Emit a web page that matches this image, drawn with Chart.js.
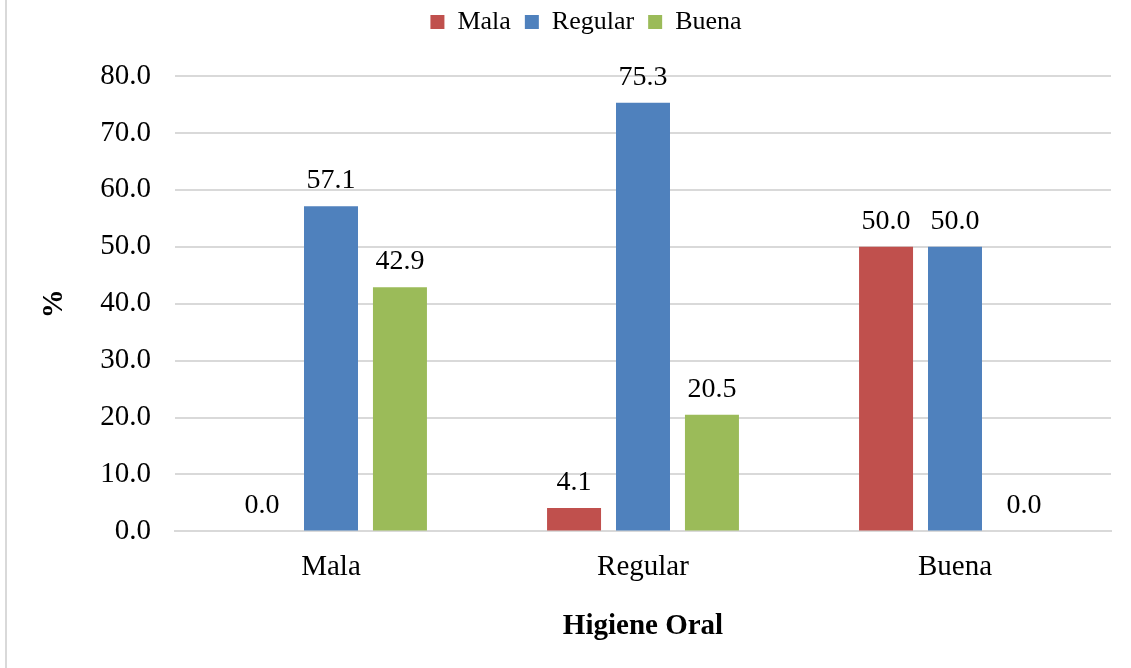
<!DOCTYPE html>
<html>
<head>
<meta charset="utf-8">
<script src="https://cdn.jsdelivr.net/npm/chart.js@4/dist/chart.umd.min.js"></script>
<style>
html,body{margin:0;padding:0;background:#fff;}
#wrap{width:1131px;height:668px;position:relative;}
</style>
</head>
<body>
<div id="wrap"><canvas id="c" width="1131" height="668"></canvas></div>
<script>
const categories = ["Mala", "Regular", "Buena"];
const seriesNames = ["Mala", "Regular", "Buena"];
const malaValues = [0.0, 4.1, 50.0];
const regularValues = [57.1, 75.3, 50.0];
const buenaValues = [42.9, 20.5, 0.0];
const seriesColors = ["#C0504D", "#4F81BD", "#9BBB59"];
const yTicks = [0, 10, 20, 30, 40, 50, 60, 70, 80];

const FONT = "'Liberation Serif', 'Times New Roman', serif";
const FS_LEGEND = 26;
const FS_TICK = 29;
const FS_LABEL = 28;
const FS_TITLE = 29;

const borderPlugin = {
  id: 'leftBorder',
  beforeDraw(chart) {
    const ctx = chart.ctx;
    ctx.save();
    ctx.fillStyle = '#d9d9d9';
    ctx.fillRect(5, 0, 2, chart.height);
    ctx.restore();
  }
};

const legendSpacer = {
  id: 'legendSpacer',
  beforeLayout(chart) {
    const lg = chart.legend;
    if (lg && !lg._spaced) {
      const f = lg.fit.bind(lg);
      lg.fit = function () { f(); this.height += 31; };
      lg._spaced = true;
    }
  },
  afterLayout(chart) {
    const lg = chart.legend;
    if (lg) { lg.left += 24; }
  }
};

const labelPlugin = {
  id: 'valueLabels',
  afterDatasetsDraw(chart) {
    const ctx = chart.ctx;
    ctx.save();
    ctx.font = FS_LABEL + "px " + FONT;
    ctx.fillStyle = '#000';
    ctx.textAlign = 'center';
    ctx.textBaseline = 'alphabetic';
    chart.data.datasets.forEach((ds, i) => {
      const meta = chart.getDatasetMeta(i);
      meta.data.forEach((el, j) => {
        ctx.fillText(Number(ds.data[j]).toFixed(1), el.x, el.y - 18);
      });
    });
    ctx.restore();
  }
};

const seriesData = [malaValues, regularValues, buenaValues];

new Chart(document.getElementById('c'), {
  type: 'bar',
  data: {
    labels: categories,
    datasets: seriesNames.map((n, i) => ({
      label: n,
      data: seriesData[i],
      backgroundColor: seriesColors[i],
      borderWidth: 0,
      categoryPercentage: 0.663,
      barPercentage: 0.783
    }))
  },
  options: {
    responsive: false,
    animation: false,
    devicePixelRatio: 1,
    layout: { padding: { left: 37, right: 20, top: -5, bottom: 8 } },
    plugins: {
      legend: {
        position: 'top',
        labels: {
          font: { family: FONT, size: FS_LEGEND },
          color: '#000',
          boxWidth: 14,
          boxHeight: 14,
          padding: 14
        }
      },
      tooltip: { enabled: false }
    },
    scales: {
      x: {
        grid: { display: false, drawTicks: false },
        border: { display: true, color: '#d9d9d9', width: 2 },
        ticks: { font: { family: FONT, size: FS_TICK }, color: '#000', padding: 19 },
        title: {
          display: true, text: 'Higiene Oral',
          font: { family: FONT, size: FS_TITLE, weight: 'bold' }, color: '#000',
          padding: { top: 5, bottom: 16 }
        }
      },
      y: {
        min: 0, max: 80,
        afterBuildTicks(scale) { scale.ticks = yTicks.map(v => ({ value: v })); },
        afterFit(scale) { scale.width = 175 - 37; },
        grid: { color: '#d9d9d9', lineWidth: 2, drawTicks: false },
        border: { display: false },
        ticks: {
          font: { family: FONT, size: FS_TICK }, color: '#000', padding: 24,
          callback: v => Number(v).toFixed(1)
        },
        title: {
          display: true, text: '%',
          font: { family: FONT, size: FS_TITLE, weight: 'bold' }, color: '#000',
          padding: { top: 0, bottom: 0 }
        }
      }
    }
  },
  plugins: [borderPlugin, legendSpacer, labelPlugin]
});
</script>
</body>
</html>
